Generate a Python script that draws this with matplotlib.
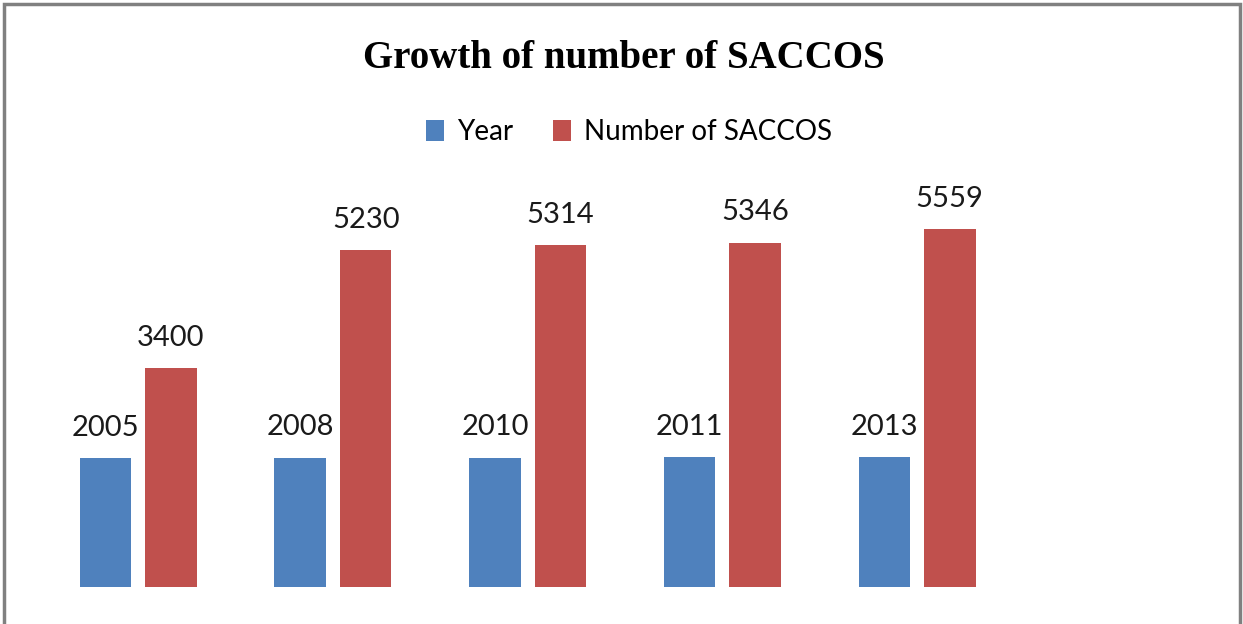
import matplotlib.pyplot as plt
import numpy as np
from matplotlib.patches import Rectangle

years = ["2005", "2008", "2010", "2011", "2013"]
year_values = [2005, 2008, 2010, 2011, 2013]
saccos = [3400, 5230, 5314, 5346, 5559]

BLUE = "#4F81BD"
RED = "#C0504D"

W, H = 1243, 624
fig = plt.figure(figsize=(W / 100, H / 100), dpi=100)

# axes in pixel-ish layout: baseline at y=587px, group pitch ~194.7px
base_px = 587
px_per_unit = 0.0644
pitch = 194.7
first_center = 138.25
ax = fig.add_axes([0, (H - base_px) / H, 1, (base_px - 150) / H])
ax.set_xlim(-first_center / pitch, (W - first_center) / pitch)
ax.set_ylim(0, (base_px - 150) / px_per_unit)
ax.axis("off")

x = np.arange(len(years))
off = 0.168
bw = 0.265
b1 = ax.bar(x - off, year_values, bw, color=BLUE, label="Year")
b2 = ax.bar(x + off, saccos, bw, color=RED, label="Number of SACCOS")

lab_font = dict(family="Lato", size=21, color="#1a1a1a")
for bars, vals in [(b1, year_values), (b2, saccos)]:
    for r, v in zip(bars, vals):
        ax.annotate(f"{v}", (r.get_x() + r.get_width() / 2, r.get_height()),
                    xytext=(0, 16), textcoords="offset points",
                    ha="center", va="baseline", **lab_font)

fig.text(624 / W, 1 - 68 / H, "Growth of number of SACCOS",
         ha="center", va="baseline", family="Liberation Serif",
         fontweight="bold", fontsize=28)

fig.legend(handles=[b1, b2], loc="center", bbox_to_anchor=(629 / W, 1 - 132 / H),
           ncol=2, frameon=False, prop=dict(family="Lato", size=20),
           handlelength=0.65, handleheight=0.8, handletextpad=0.5,
           columnspacing=1.4)

# outer chart border
fig.patches.append(Rectangle((4 / W, -0.02), (W - 7) / W, 1.02 - 4 / H,
                             transform=fig.transFigure, fill=False,
                             edgecolor="#808080", lw=2.5))

fig.savefig("out.png", dpi=100)
